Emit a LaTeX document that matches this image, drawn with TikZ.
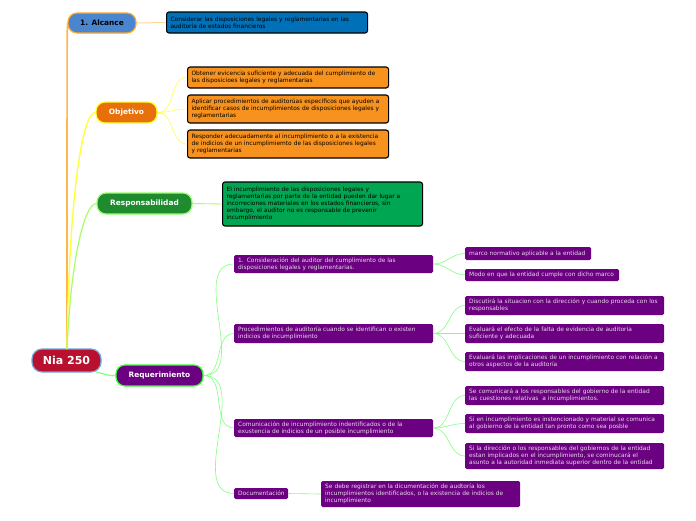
\documentclass[tikz,border=0pt]{standalone}
\usepackage{fontspec}
\setmainfont{DejaVu Sans}
\definecolor{rootred}{HTML}{B8102E}
\definecolor{rootbd}{HTML}{6FA8DC}
\definecolor{alcfill}{HTML}{4A86D0}
\definecolor{alcbd}{HTML}{FFA726}
\definecolor{alcchild}{HTML}{0070B8}
\definecolor{objfill}{HTML}{E8700A}
\definecolor{objbd}{HTML}{FFFF33}
\definecolor{objchild}{HTML}{F7921E}
\definecolor{respfill}{HTML}{1E8B2E}
\definecolor{respbd}{HTML}{99FF66}
\definecolor{respchild}{HTML}{00A651}
\definecolor{purp}{HTML}{6B0080}
\definecolor{reqbd}{HTML}{33FF33}
\definecolor{alcline}{HTML}{FFB74D}
\definecolor{alclight}{HTML}{FFD699}
\definecolor{objline}{HTML}{FFFF40}
\definecolor{respline}{HTML}{A6FF66}
\definecolor{reqline}{HTML}{80FF80}
\newcommand{\smallfs}{\fontsize{5.9}{7}\selectfont}
\tikzset{
  mainbox/.style={rounded corners=9pt, line width=1.2pt, font=\fontsize{7.4}{8}\selectfont\bfseries, minimum height=21pt, inner sep=0pt},
  leafbox/.style={draw=black, line width=1.1pt, rounded corners=2.5pt, font=\smallfs, align=left, anchor=west, inner xsep=4pt, inner ysep=0pt, text width=#1},
  pbox/.style={fill=purp, rounded corners=1.5pt, text=white!85!purp, font=\smallfs, align=left, anchor=west, inner xsep=4pt, inner ysep=0pt, text width=#1},
  link/.style={line width=0.6pt},
}
\begin{document}
\begin{tikzpicture}[x=1pt,y=-1pt]
\useasboundingbox (0,0) rectangle (696,520);
% root
\node[draw=rootbd, fill=rootred, line width=1.2pt, rounded corners=10pt, minimum width=69pt, minimum height=23pt, text=white, font=\fontsize{11}{12}\selectfont\bfseries, inner sep=0pt] (root) at (66.5,360.5) {Nia 250};
% main branches
\node[mainbox, draw=alcbd, fill=alcfill, minimum width=68pt, minimum height=20pt, text=black] (alc) at (102,23) {1. Alcance};
\node[mainbox, draw=objbd, fill=objfill, minimum width=61pt, text=white] (obj) at (126.5,112.5) {Objetivo};
\node[mainbox, draw=respbd, fill=respfill, minimum width=95pt, text=white] (resp) at (144.5,203.5) {Responsabilidad};
\node[mainbox, draw=reqbd, fill=purp, minimum width=87pt, text=white] (req) at (159.5,375.5) {Requerimiento};
% leaves
\node[leafbox=193pt, fill=alcchild, minimum height=21pt] (alcC) at (166,22.5) {Considerar las disposiciones legales y reglamentarias en las\\auditoría de estados financieros};
\node[leafbox=193pt, fill=objchild, minimum height=21pt] (objA) at (187,77.5) {Obtener evicencia suficiente y adecuada del cumplimiento de\\las disposicioes legales y reglamentarias};
\node[leafbox=193pt, fill=objchild, minimum height=28pt] (objB) at (187,109) {Aplicar procedimientos de auditorúas específicos que ayuden a\\identificar casos de incumplimientos de disposiciones legales y\\reglamentarias};
\node[leafbox=193pt, fill=objchild, minimum height=28pt] (objC) at (187,144) {Responder adecuadamente al incumplimiento o a la existencia\\de indicios de un incumplimiemto de las disposiciones legales\\y reglamentarias};
\node[leafbox=192pt, fill=respchild, minimum height=44pt] (respC) at (222,204) {El incumplimiento de las disposiciones legales y\\reglamentarias por parte de la entidad pueden dar lugar a\\incorreciones materiales en los estados financieros, sin\\embargo, el auditor no es responsable de prevenir\\incumplimiento};
% requerimiento children
\node[pbox=191pt, minimum height=18pt] (r1) at (234,264) {1. Consideración del auditor del cumplimiento de las\\disposiciones legales y reglamentarias.};
\node[pbox=191pt, minimum height=19pt] (r2) at (234,333.5) {Procedimientos de auditoría cuando se identifican o existen\\indicios de incumplimiento};
\node[pbox=191pt, minimum height=18pt] (r3) at (234,428) {Comunicación de incumplimiento indentificados o de la\\exustencia de indicios de un posible incumplimiento};
\node[pbox=46pt, minimum height=11pt] (r4) at (234,493.5) {Documentación};
% grandchildren
\node[pbox=118pt, minimum height=13pt] (g1) at (465,253.5) {marco normativo aplicable a la entidad};
\node[pbox=146pt, minimum height=12pt] (g2) at (465,275) {Modo en que la entidad cumple con dicho marco};
\node[pbox=191pt, minimum height=19pt] (g3) at (465,305.5) {Discutirá la situacion con la dirección y cuando proceda con los\\responsables};
\node[pbox=191pt, minimum height=19pt] (g4) at (465,333.5) {Evaluará el efecto de la falta de evidencia de auditoría\\suficiente y adecuada};
\node[pbox=191pt, minimum height=19pt] (g5) at (465,361.5) {Evaluará las implicaciones de un incumplimiento con relación a\\otros aspectos de la auditoría};
\node[pbox=191pt, minimum height=19pt] (g6) at (465,395.5) {Se comunicará a los responsables del gobierno de la entidad\\las cuestiones relativas \ a incumplimientos.};
\node[pbox=191pt, minimum height=19pt] (g7) at (465,423.5) {Si en incumplimiento es instencionado y material se comunica\\al gobierno de la entidad tan pronto como sea posble};
\node[pbox=191pt, minimum height=26pt] (g8) at (465,456) {Si la dirección o los responsables del gobiernos de la entidad\\estan implicados en el incumplimiento, se cominucará el\\asunto a la autoridad inmediata superior dentro de la entidad};
\node[pbox=191pt, minimum height=26pt] (g9) at (321,494) {Se debe registrar en la dicumentación de audtoría los\\incumplimientos identificados, o la existencia de indicios de\\incumplimiento};
% root connectors
\coordinate (rtop) at (67,349);
\coordinate (rside) at (96,372);
\draw[alcline, line width=1.6pt] (rtop) .. controls (67,150) and (67,40) .. (alc.west);
\draw[objline, line width=1.4pt] (rtop) .. controls (69,200) and (82,112) .. (obj.west);
\draw[respline, line width=1.2pt] (rtop) .. controls (71,260) and (84,204) .. (resp.west);
\draw[reqline, line width=1.2pt] (rside) .. controls (105,374) and (108,376) .. (req.west);
% child connectors
\draw[alclight, line width=1pt] (alc.east) -- (alcC.west);
\foreach \t in {objA,objB,objC} \draw[objline, link] (obj.east) to[out=0,in=180] (\t.west);
\draw[respline, line width=0.9pt] (resp.east) -- (respC.west);
\foreach \t in {r1,r2,r3,r4} \draw[reqline, link] (req.east) to[out=0,in=180] (\t.west);
\foreach \t in {g1,g2} \draw[reqline, link] (r1.east) to[out=0,in=180] (\t.west);
\foreach \t in {g3,g4,g5} \draw[reqline, link] (r2.east) to[out=0,in=180] (\t.west);
\foreach \t in {g6,g7,g8} \draw[reqline, link] (r3.east) to[out=0,in=180] (\t.west);
\draw[reqline, link] (r4.east) -- (g9.west);
\end{tikzpicture}
\end{document}
